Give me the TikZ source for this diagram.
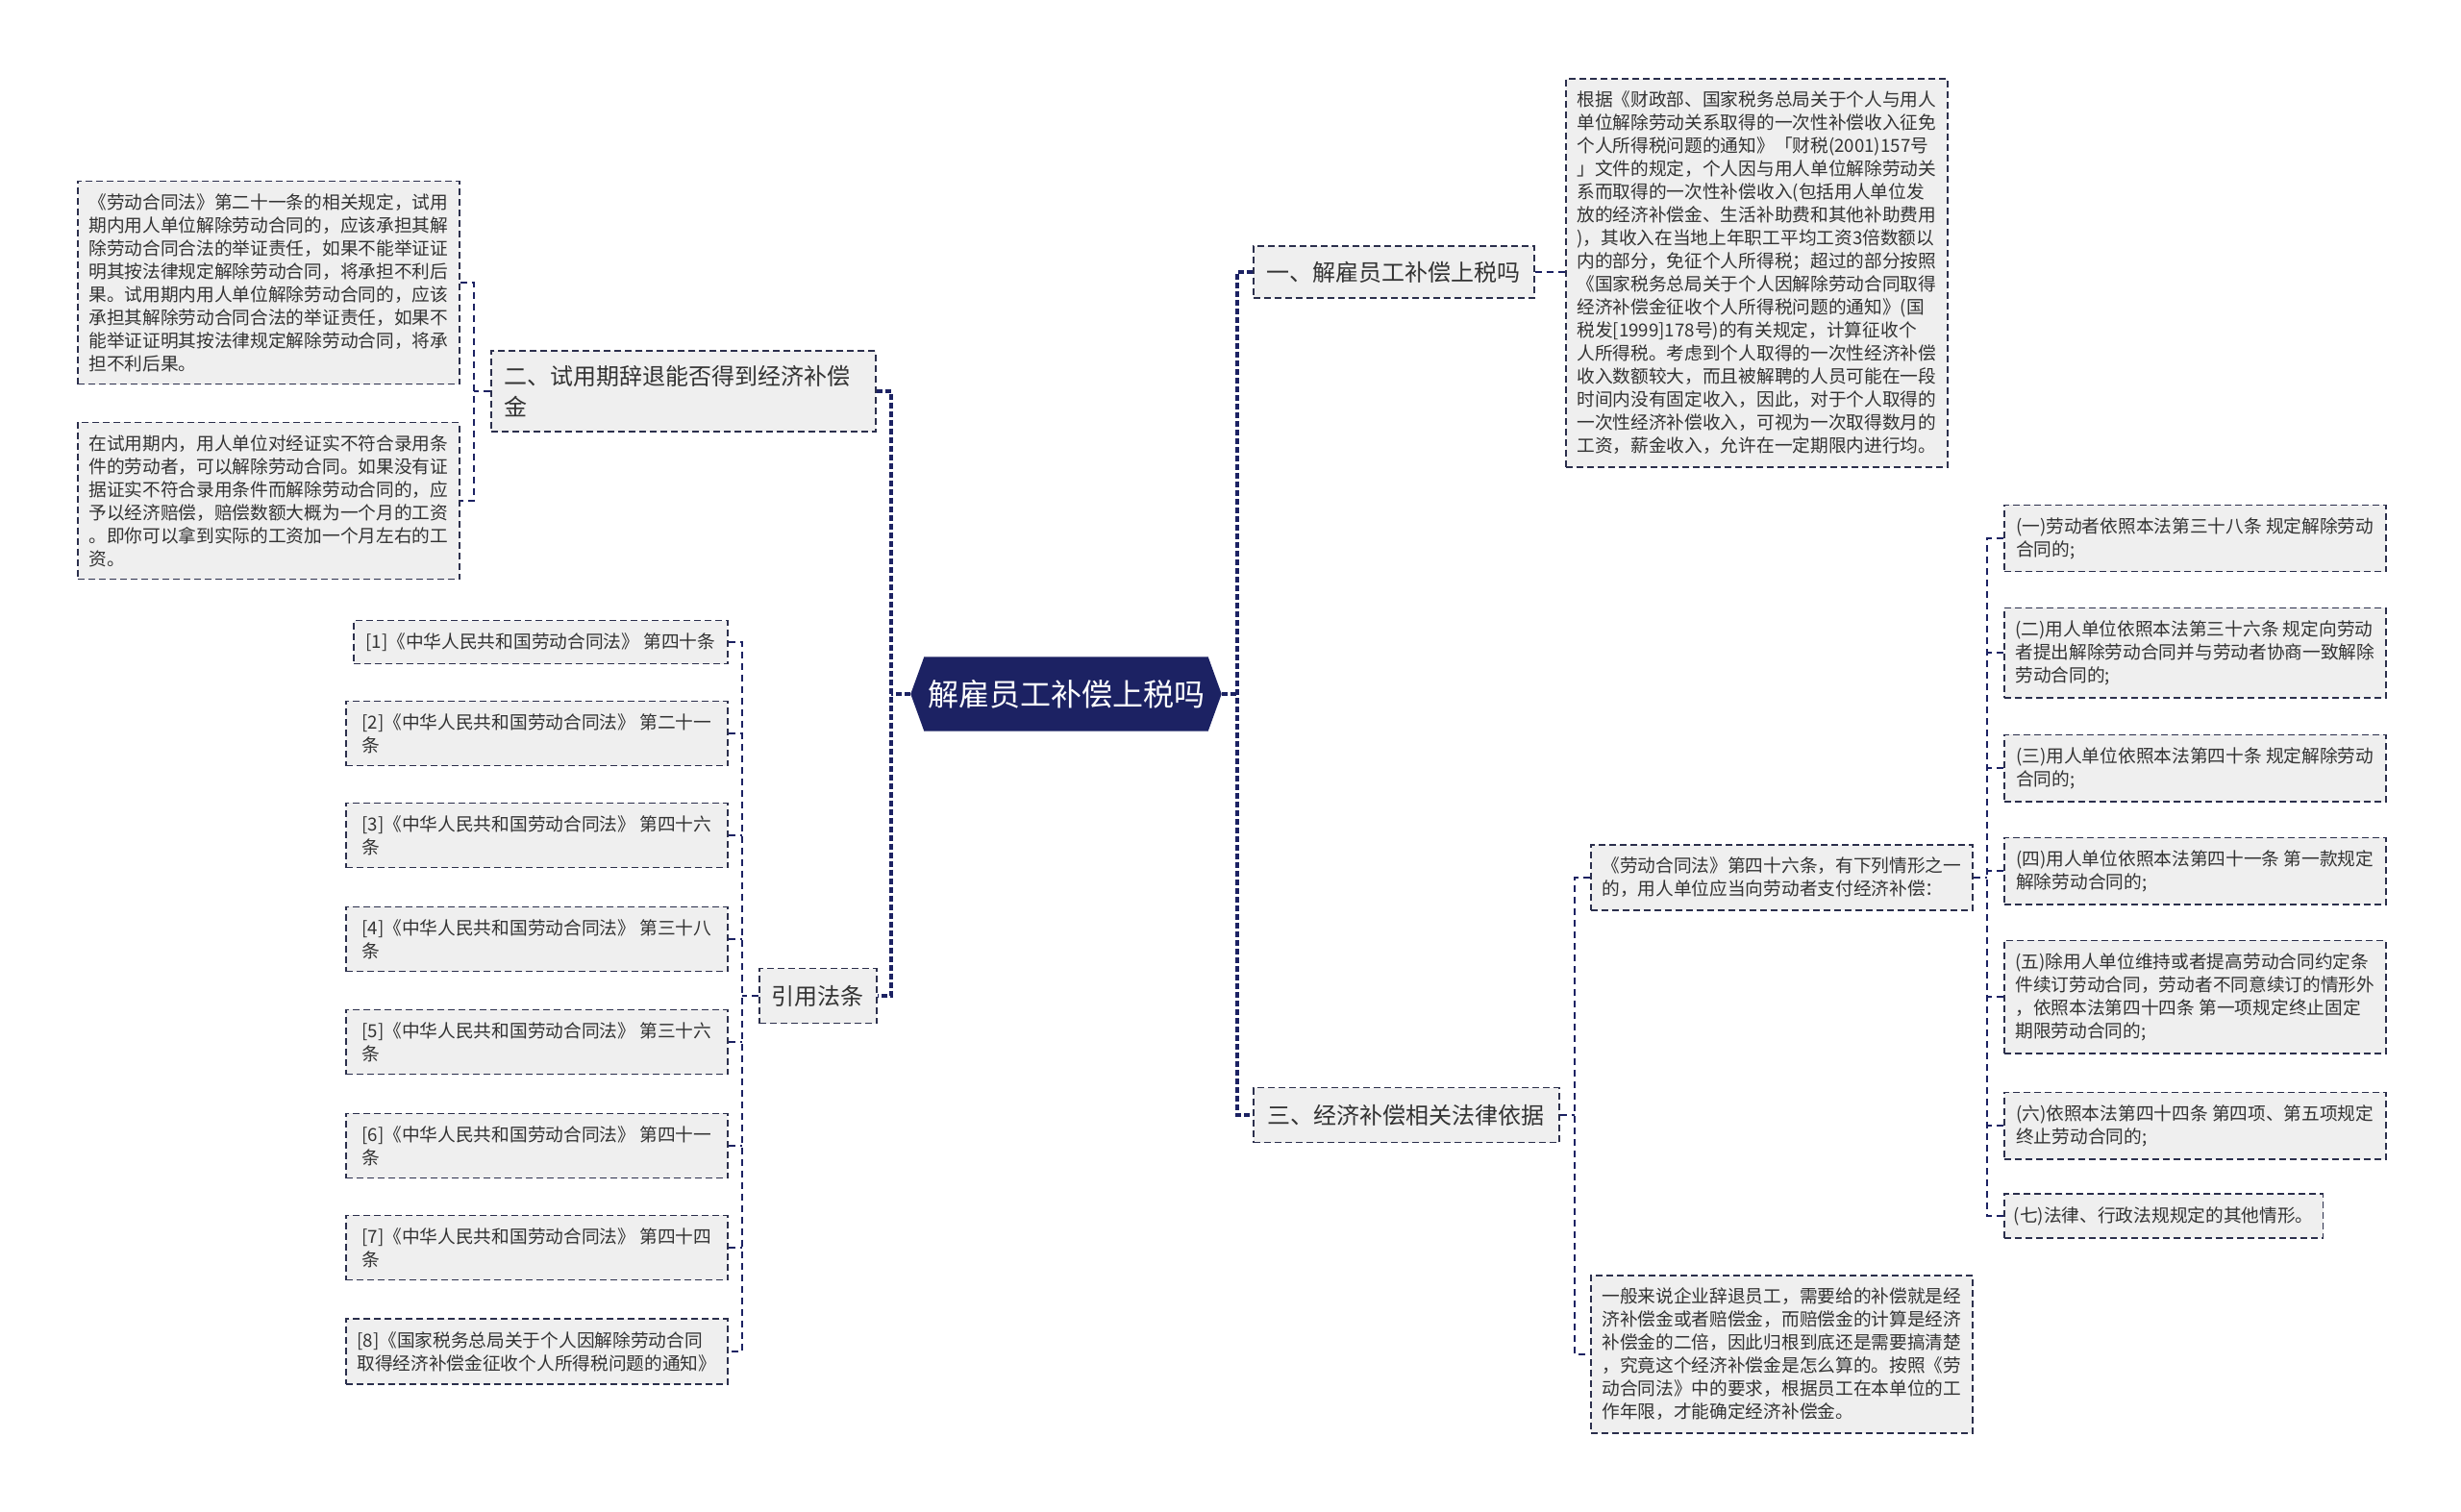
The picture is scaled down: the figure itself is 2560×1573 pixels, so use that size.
\documentclass[tikz,border=0pt]{standalone}
\usepackage{fontspec}
\setmainfont{Noto Sans CJK SC}
\usetikzlibrary{backgrounds}
\definecolor{navy}{HTML}{1C2263}
\definecolor{boxfill}{HTML}{EFEFEF}
\definecolor{boxline}{HTML}{2B2F4C}
\definecolor{ink}{HTML}{333333}

\begin{document}
\begin{tikzpicture}[x=1pt,y=-1pt]
    \tikzstyle{leafbox}=[draw=boxline,fill=boxfill,text=ink,dash pattern=on 7pt off 4pt,line width=1.6pt,font=\fontsize{18.7}{24}\selectfont,align=left,minimum width=397pt,inner xsep=10pt,inner ysep=13pt,anchor=west]
    \tikzstyle{topicbox}=[draw=boxline,fill=boxfill,text=ink,dash pattern=on 7pt off 4pt,line width=1.6pt,font=\fontsize{24}{32}\selectfont,inner sep=0pt,anchor=west]
    \tikzstyle{linkline}=[draw=navy,dash pattern=on 7pt off 5pt,line width=2pt]
    \tikzstyle{trunkline}=[draw=navy,dash pattern=on 6pt off 3pt,line width=3.2pt]

    \useasboundingbox (0,0) rectangle (2560,1573);

    \node[text=white,font=\fontsize{32}{38}\selectfont,minimum width=295pt,minimum height=77pt,inner sep=0pt] (root) at (1109,722) {解雇员工补偿上税吗};
    \begin{scope}[on background layer]
        \fill[white] (0,0) rectangle (2560,1573);
        \fill[navy] (root.north west) -- (root.north east) -- ([xshift=14pt]root.east) -- (root.south east) -- (root.south west) -- ([xshift=-14pt]root.west) -- cycle;
    \end{scope}

    \node[topicbox,minimum width=292pt,minimum height=54pt] (tax_one) at (1303,283) {一、解雇员工补偿上税吗};
    \node[topicbox,minimum width=318pt,minimum height=57pt] (law_three) at (1303,1160) {三、经济补偿相关法律依据};
    \node[topicbox,align=left,text width=372pt,inner xsep=14pt,inner ysep=15pt] (trial_two) at (510,407) {二、试用期辞退能否得到经济补偿\\金};
    \node[topicbox,minimum width=122pt,minimum height=57pt] (cite) at (789,1036) {引用法条};

    \node[leafbox] (tax_text) at (1628,284) {根据《财政部、国家税务总局关于个人与用人\\单位解除劳动关系取得的一次性补偿收入征免\\个人所得税问题的通知》「财税(2001)157号\\」文件的规定，个人因与用人单位解除劳动关\\系而取得的一次性补偿收入(包括用人单位发\\放的经济补偿金、生活补助费和其他补助费用\\)，其收入在当地上年职工平均工资3倍数额以\\内的部分，免征个人所得税；超过的部分按照\\《国家税务总局关于个人因解除劳动合同取得\\经济补偿金征收个人所得税问题的通知》(国\\税发[1999]178号)的有关规定，计算征收个\\人所得税。考虑到个人取得的一次性经济补偿\\收入数额较大，而且被解聘的人员可能在一段\\时间内没有固定收入，因此，对于个人取得的\\一次性经济补偿收入，可视为一次取得数月的\\工资，薪金收入，允许在一定期限内进行均。};

    \node[leafbox] (trial_a) at (80,294) {《劳动合同法》第二十一条的相关规定，试用\\期内用人单位解除劳动合同的，应该承担其解\\除劳动合同合法的举证责任，如果不能举证证\\明其按法律规定解除劳动合同，将承担不利后\\果。试用期内用人单位解除劳动合同的，应该\\承担其解除劳动合同合法的举证责任，如果不\\能举证证明其按法律规定解除劳动合同，将承\\担不利后果。};
    \node[leafbox] (trial_b) at (80,521) {在试用期内，用人单位对经证实不符合录用条\\件的劳动者，可以解除劳动合同。如果没有证\\据证实不符合录用条件而解除劳动合同的，应\\予以经济赔偿，赔偿数额大概为一个月的工资\\。即你可以拿到实际的工资加一个月左右的工\\资。};

    \node[leafbox,minimum width=389pt] (ref_1) at (367,668) {[1]《中华人民共和国劳动合同法》~第四十条};
    \node[leafbox] (ref_2) at (359,763) {[2]《中华人民共和国劳动合同法》~第二十一\\条};
    \node[leafbox] (ref_3) at (359,869) {[3]《中华人民共和国劳动合同法》~第四十六\\条};
    \node[leafbox] (ref_4) at (359,977) {[4]《中华人民共和国劳动合同法》~第三十八\\条};
    \node[leafbox] (ref_5) at (359,1084) {[5]《中华人民共和国劳动合同法》~第三十六\\条};
    \node[leafbox] (ref_6) at (359,1192) {[6]《中华人民共和国劳动合同法》~第四十一\\条};
    \node[leafbox] (ref_7) at (359,1298) {[7]《中华人民共和国劳动合同法》~第四十四\\条};
    \node[leafbox] (ref_8) at (359,1406) {[8]《国家税务总局关于个人因解除劳动合同\\取得经济补偿金征收个人所得税问题的通知》};

    \node[leafbox] (law_46) at (1654,913) {《劳动合同法》第四十六条，有下列情形之一\\的，用人单位应当向劳动者支付经济补偿：};
    \node[leafbox] (general) at (1654,1409) {一般来说企业辞退员工，需要给的补偿就是经\\济补偿金或者赔偿金，而赔偿金的计算是经济\\补偿金的二倍，因此归根到底还是需要搞清楚\\，究竟这个经济补偿金是怎么算的。按照《劳\\动合同法》中的要求，根据员工在本单位的工\\作年限，才能确定经济补偿金。};

    \node[leafbox] (case_1) at (2084,560) {(一)劳动者依照本法第三十八条~规定解除劳动\\合同的;};
    \node[leafbox] (case_2) at (2084,679) {(二)用人单位依照本法第三十六条~规定向劳动\\者提出解除劳动合同并与劳动者协商一致解除\\劳动合同的;};
    \node[leafbox] (case_3) at (2084,799) {(三)用人单位依照本法第四十条~规定解除劳动\\合同的;};
    \node[leafbox] (case_4) at (2084,906) {(四)用人单位依照本法第四十一条~第一款规定\\解除劳动合同的;};
    \node[leafbox] (case_5) at (2084,1037) {(五)除用人单位维持或者提高劳动合同约定条\\件续订劳动合同，劳动者不同意续订的情形外\\，依照本法第四十四条~第一项规定终止固定\\期限劳动合同的;};
    \node[leafbox] (case_6) at (2084,1171) {(六)依照本法第四十四条~第四项、第五项规定\\终止劳动合同的;};
    \node[leafbox,minimum width=0pt] (case_7) at (2084,1265) {(七)法律、行政法规规定的其他情形。};

    \coordinate (root_r) at (1287,722);
    \coordinate (root_l) at (927,722);
    \draw[trunkline] ([xshift=14pt]root.east) -- (root_r);
    \draw[trunkline] (tax_one.west) -| (root_r) |- (law_three.west);
    \draw[trunkline] ([xshift=-14pt]root.west) -- (root_l);
    \draw[trunkline] (trial_two.east) -| (root_l) |- (cite.east);

    \draw[linkline] (tax_one.east) -- (tax_one.east -| tax_text.west);

    \coordinate (trial_j) at (493,407);
    \draw[linkline] (trial_two.west) -- (trial_j);
    \draw[linkline] (trial_a.east) -| (trial_j) |- (trial_b.east);

    \coordinate (cite_j) at (772,1036);
    \draw[linkline] (cite.west) -- (cite_j);
    \draw[linkline] (ref_1.east) -| (cite_j) |- (ref_8.east);
    \draw[linkline] (ref_2.east) -- (ref_2.east -| cite_j);
    \draw[linkline] (ref_3.east) -- (ref_3.east -| cite_j);
    \draw[linkline] (ref_4.east) -- (ref_4.east -| cite_j);
    \draw[linkline] (ref_5.east) -- (ref_5.east -| cite_j);
    \draw[linkline] (ref_6.east) -- (ref_6.east -| cite_j);
    \draw[linkline] (ref_7.east) -- (ref_7.east -| cite_j);

    \coordinate (law_j) at (1638,1160);
    \draw[linkline] (law_three.east) -- (law_j);
    \draw[linkline] (law_46.west) -| (law_j) |- (general.west);

    \coordinate (case_j) at (2067,913);
    \draw[linkline] (law_46.east) -- (case_j);
    \draw[linkline] (case_1.west) -| (case_j) |- (case_7.west);
    \draw[linkline] (case_2.west) -- (case_2.west -| case_j);
    \draw[linkline] (case_3.west) -- (case_3.west -| case_j);
    \draw[linkline] (case_4.west) -- (case_4.west -| case_j);
    \draw[linkline] (case_5.west) -- (case_5.west -| case_j);
    \draw[linkline] (case_6.west) -- (case_6.west -| case_j);
\end{tikzpicture}
\end{document}
